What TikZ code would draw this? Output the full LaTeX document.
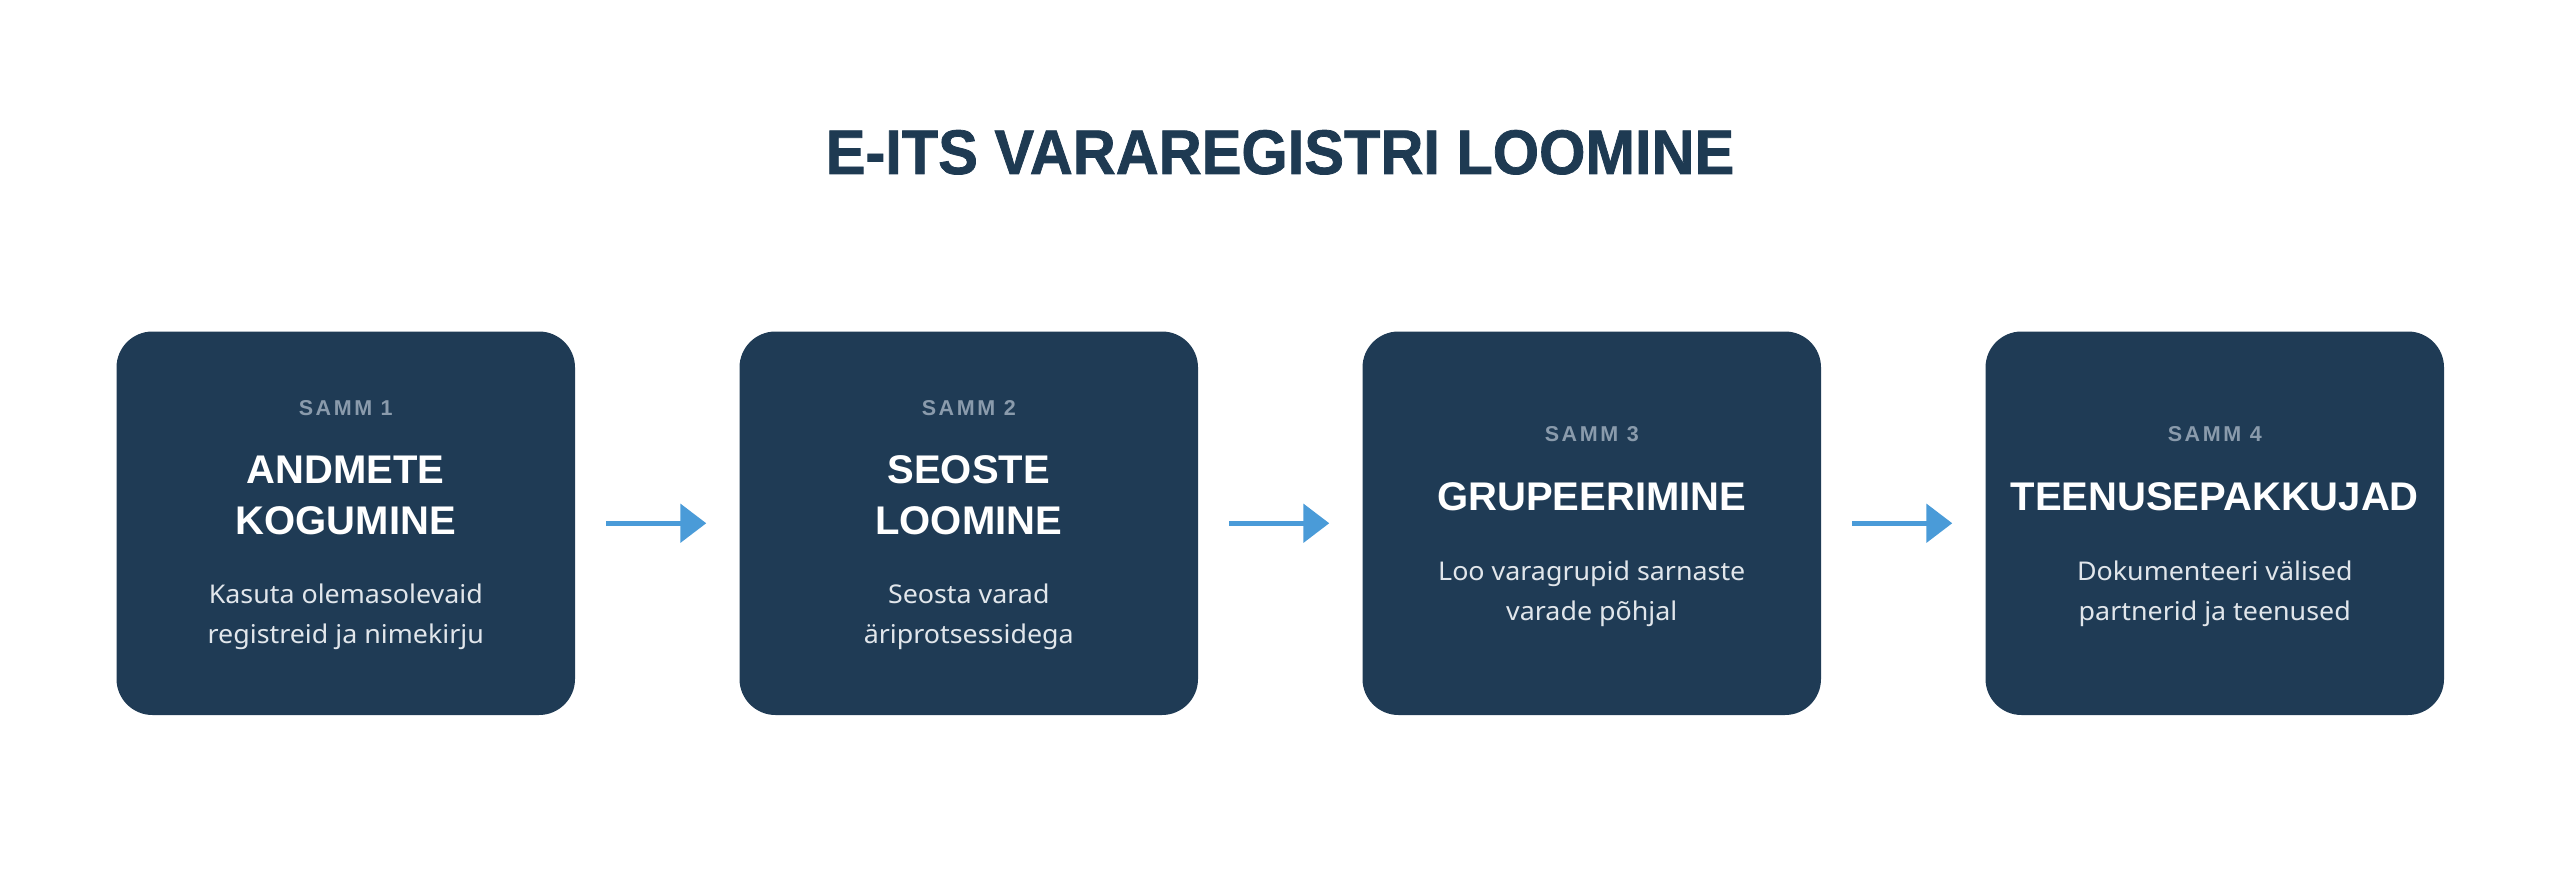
\documentclass[tikz,border=0pt]{standalone}
\usepackage{fontspec}
\setmainfont{Liberation Sans}
\newfontfamily\headfont{Liberation Sans}[FakeStretch=0.945,FakeBold=1.2]
\newfontfamily\descfont{Noto Sans}[FakeStretch=1.04]
\newfontfamily\stepfont{Liberation Sans}[LetterSpace=12]
\usetikzlibrary{arrows.meta}
\definecolor{boxblue}{HTML}{1F3B55}
\definecolor{titleblue}{HTML}{1E3A52}
\definecolor{sammgray}{HTML}{8A9BAC}
\definecolor{desccol}{HTML}{E1E6EB}
\definecolor{arrowblue}{HTML}{4A9BD8}
\tikzset{
  stepbox/.style={fill=boxblue, draw=none, rounded corners=36pt, minimum width=458.5pt, minimum height=383.5pt, inner sep=0pt},
  sammtext/.style={anchor=base, inner sep=0pt, text=sammgray, font=\stepfont\bfseries\fontsize{21.5}{26}\selectfont},
  headtext/.style={anchor=base, inner sep=0pt, text=white, font=\bfseries\fontsize{40}{48}\selectfont},
  desctext/.style={anchor=base, inner sep=0pt, text=desccol, font=\descfont\fontsize{25.8}{30}\selectfont},
  flowarrow/.style={draw=arrowblue, line width=5.5pt, -{Triangle[length=26pt,width=38pt]}, shorten <=31pt, shorten >=33pt},
  maintitle/.style={anchor=base, inner sep=0pt, text=titleblue, font=\headfont\bfseries\fontsize{63}{70}\selectfont}
}
\begin{document}
\begin{tikzpicture}[x=1pt,y=-1pt]
\useasboundingbox (0,0) rectangle (2560,869);
\node[maintitle] (title) at (1280,174) {E-ITS VARAREGISTRI LOOMINE};

\node[stepbox] (b1) at (345.75,523.25) {};
\node[stepbox] (b2) at (968.75,523.25) {};
\node[stepbox] (b3) at (1591.75,523.25) {};
\node[stepbox] (b4) at (2214.75,523.25) {};

% box 1
\node[sammtext] (s1) at (345.75,415) {SAMM 1};
\node[headtext] (h1a) at (345.75,483) {ANDMETE};
\node[headtext] (h1b) at (345.75,534) {KOGUMINE};
\node[desctext] (d1a) at (345.75,603) {Kasuta olemasolevaid};
\node[desctext] (d1b) at (345.75,643) {registreid ja nimekirju};

% box 2
\node[sammtext] (s2) at (968.75,415) {SAMM 2};
\node[headtext] (h2a) at (968.75,483) {SEOSTE};
\node[headtext] (h2b) at (968.75,534) {LOOMINE};
\node[desctext] (d2a) at (968.75,603) {Seosta varad};
\node[desctext] (d2b) at (968.75,643) {äriprotsessidega};

% box 3
\node[sammtext] (s3) at (1591.75,441) {SAMM 3};
\node[headtext] (h3) at (1591.75,510) {GRUPEERIMINE};
\node[desctext] (d3a) at (1591.75,580) {Loo varagrupid sarnaste};
\node[desctext] (d3b) at (1591.75,620) {varade põhjal};

% box 4
\node[sammtext] (s4) at (2214.75,441) {SAMM 4};
\node[headtext] (h4) at (2214.75,510) {TEENUSEPAKKUJAD};
\node[desctext] (d4a) at (2214.75,580) {Dokumenteeri välised};
\node[desctext] (d4b) at (2214.75,620) {partnerid ja teenused};

\draw[flowarrow] (b1.east) -- (b2.west);
\draw[flowarrow] (b2.east) -- (b3.west);
\draw[flowarrow] (b3.east) -- (b4.west);
\end{tikzpicture}
\end{document}
